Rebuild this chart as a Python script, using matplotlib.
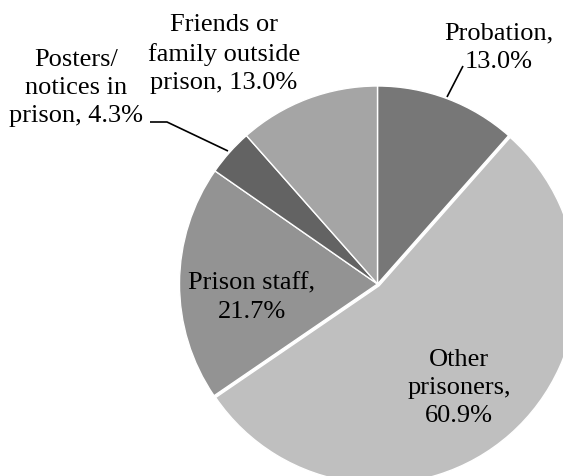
import numpy as np
import matplotlib
matplotlib.use('Agg')
import matplotlib.pyplot as plt

plt.rcParams['font.family'] = ['Liberation Serif', 'DejaVu Serif']

# share of responses by source (slices are drawn relative to their total)
categories = ['Probation', 'Other prisoners', 'Prison staff',
              'Posters/notices in prison', 'Friends or family outside prison']
values = [13.0, 60.9, 21.7, 4.3, 13.0]
label_templates = ['Probation,\n{}', 'Other\nprisoners,\n{}', 'Prison staff,\n{}',
                   'Posters/\nnotices in\nprison, {}', 'Friends or\nfamily outside\nprison, {}']
colors = ['#777777', '#bfbfbf', '#939393', '#636363', '#a5a5a5']

W, H = 563, 477
fig = plt.figure(figsize=(W / 100, H / 100), dpi=100)
ax = fig.add_axes([0, 0, 1, 1])

# pie centre and radius in pixels
cx, cy, r = 377.5, 285.0, 198.0

def px(x, y):
    return (x - cx) / r, (cy - y) / r

wedges, _ = ax.pie(values, colors=colors, startangle=90, counterclock=False,
                   radius=1.0, explode=[0, 0.012, 0, 0, 0],
                   wedgeprops=dict(edgecolor='white', linewidth=1.0))
ax.set_xlim(px(0, 0)[0], px(W, 0)[0])
ax.set_ylim(px(0, H)[1], px(0, 0)[1])
ax.set_aspect('auto')
ax.axis('off')

labels = [t.format(f'{v:.1f}%') for t, v in zip(label_templates, values)]
label_pos = [(499, 48), (459, 388), (252, 298), (76, 88), (224, 54)]

for lab, (lx, ly) in zip(labels, label_pos):
    x, y = px(lx, ly)
    ax.text(x, y, lab, ha='center', va='center', multialignment='center',
            fontsize=19, linespacing=1.36, color='black')

# leader lines
p = np.array([px(463, 67), px(447, 98)])
ax.plot(p[:, 0], p[:, 1], color='black', lw=1.2, solid_capstyle='butt')
p = np.array([px(150, 123), px(167, 123), px(228, 152)])
ax.plot(p[:, 0], p[:, 1], color='black', lw=1.2, solid_capstyle='butt')

fig.savefig('out.png', dpi=100)
